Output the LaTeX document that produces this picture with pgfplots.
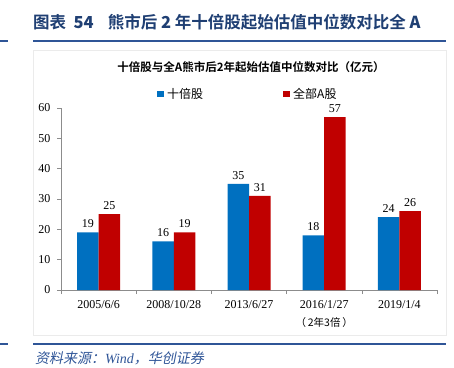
\documentclass[border=0pt]{standalone}
\usepackage{pgfplots}
\pgfplotsset{compat=1.18}
\usepackage{fontspec}
\setmainfont{Liberation Serif}
\newfontfamily\cjk{Noto Sans CJK SC}
\newfontfamily\cjkb{Noto Sans CJK SC Bold}
\newfontfamily\cjki[FakeSlant=0.2]{Noto Sans CJK SC}
\definecolor{barblue}{HTML}{0070C0}
\definecolor{barred}{HTML}{C00000}
\definecolor{titleblue}{HTML}{1F3F73}
\definecolor{ruleblue}{HTML}{2F5597}
\begin{document}
\begin{tikzpicture}[x=1bp,y=1bp]
\path[use as bounding box] (0,0) rectangle (454,367);
\coordinate (axO) at (61,77);
% title
\node[anchor=west,text=titleblue,inner sep=0] at (33,345) {\fontsize{16.5bp}{18bp}\selectfont\cjkb 图表\ \ \textbf{54}\hspace{14bp}熊市后\ \textbf{2}\ 年十倍股起始估值中位数对比全\ \textbf{A}};
\draw[ruleblue,line width=1.6bp] (0,326) -- (8,326);
\draw[ruleblue,line width=1.6bp] (33,326) -- (446,326);
% frame
\draw[black!8,line width=0.6bp] (33,317) rectangle (446,32);
% chart title
\node[text=black,inner sep=0] at (251,300) {\fontsize{11.5bp}{13bp}\selectfont\cjkb 十倍股与全A熊市后2年起始估值中位数对比（亿元）};
% legend
\fill[barblue] (157,270) rectangle (163.5,276.5);
\node[anchor=west,inner sep=0] at (167,273.5) {\fontsize{12bp}{14bp}\selectfont\cjk 十倍股};
\fill[barred] (283,270) rectangle (289.5,276.5);
\node[anchor=west,inner sep=0] at (293,273.5) {\fontsize{12bp}{14bp}\selectfont\cjk 全部A股};
\begin{axis}[
  at={(axO)}, anchor=south west,
  width=376bp, height=182bp, scale only axis,
  xmin=-0.5, xmax=4.5, ymin=0, ymax=60,
  ybar=0pt, bar width=21.5bp,
  axis x line*=bottom, axis y line*=left,
  axis line style={black!45, line width=0.7bp},
  xtick={0,1,2,3,4},
  xticklabels={2005/6/6,2008/10/28,2013/6/27,2016/1/27,2019/1/4},
  major x tick style={draw=none},
  minor xtick={-0.5,0.5,1.5,2.5,3.5,4.5},
  minor x tick style={black!45, line width=0.6bp},
  minor tick length=4bp,
  ytick={0,10,...,60},
  y tick style={black!45, line width=0.6bp},
  major tick length=4bp,
  tick align=outside,
  ticklabel style={font=\fontsize{12bp}{14bp}\selectfont},
  /pgf/number format/assume math mode=true,
  yticklabel style={xshift=-3bp},
  xticklabel style={yshift=-3bp},
  nodes near coords,
  every node near coord/.append style={font=\fontsize{12bp}{14bp}\selectfont, text=black, yshift=1bp},
  clip=false,
]
\addplot[fill=barblue, draw=none] coordinates {(0,19) (1,16) (2,35) (3,18) (4,24)};
\addplot[fill=barred, draw=none] coordinates {(0,25) (1,19) (2,31) (3,57) (4,26)};
\node[font=\fontsize{10.5bp}{12bp}\selectfont\cjk] at (axis cs:3,0) [yshift=-33bp] {（\,2年3倍\,）};
\end{axis}
% bottom rule and source
\draw[ruleblue,line width=1.2bp] (0,23) -- (8,23);
\draw[ruleblue,line width=1.2bp] (33,23) -- (446,23);
\node[anchor=west,inner sep=0,text=ruleblue] at (35,9) {\fontsize{14bp}{16bp}\selectfont\cjki 资料来源：\textit{\rmfamily Wind}，华创证券};
\end{tikzpicture}
\end{document}
